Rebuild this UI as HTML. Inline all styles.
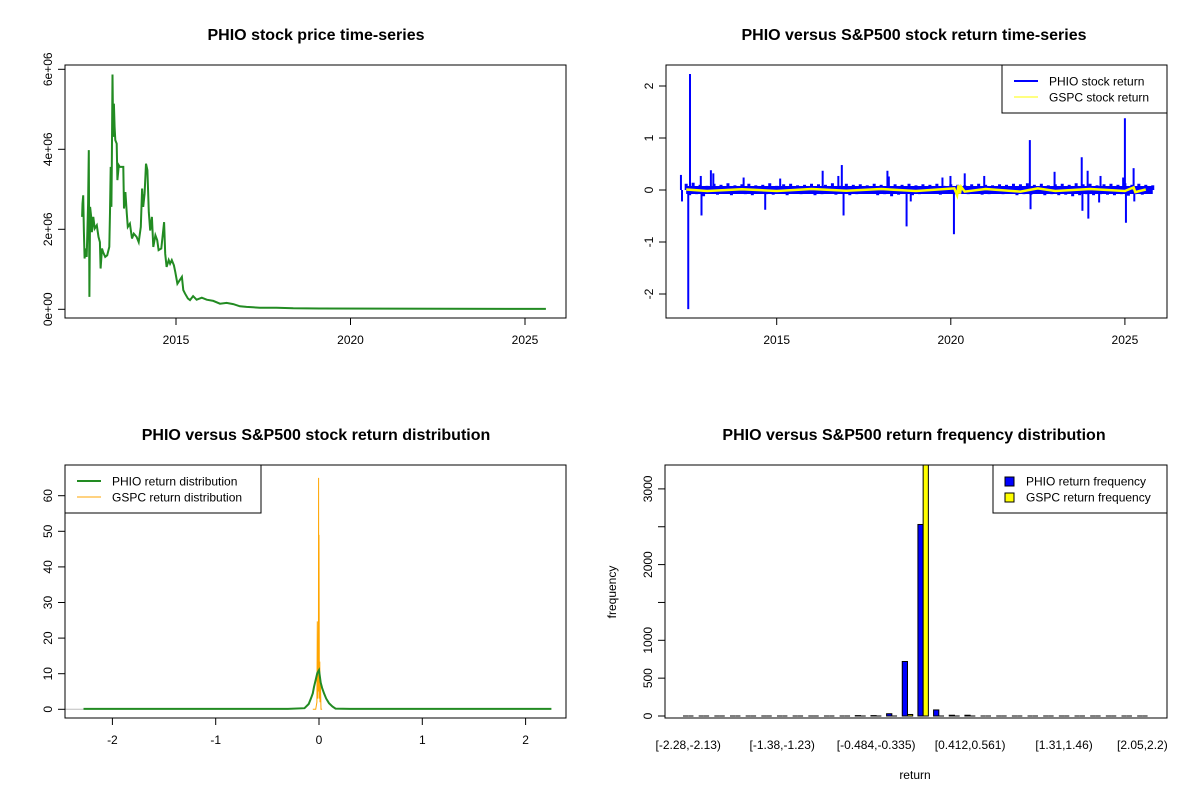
<!DOCTYPE html>
<html><head><meta charset="utf-8"><style>
body{margin:0;background:#fff}
svg{display:block;font-family:"Liberation Sans",Arial,sans-serif}
.t{font-weight:bold;font-size:16px;text-anchor:middle}
.l{font-size:12px}
</style></head><body>
<svg id="s" width="1200" height="800" viewBox="0 0 1200 800">
<rect width="1200" height="800" fill="#fff"/>
<g id="g1"></g>
<g id="g2"></g>
<g id="g3"></g>
<g id="g4"></g>
</svg>
<script>
// ---- panel 1: price ----
const priceYears=[2012.31,2012.32,2012.34,2012.36,2012.38,2012.40,2012.44,2012.48,2012.50,2012.52,2012.54,2012.57,2012.59,2012.63,2012.67,2012.73,2012.78,2012.82,2012.84,2012.88,2012.91,2012.97,2013.03,2013.09,2013.11,2013.13,2013.15,2013.16,2013.18,2013.20,2013.22,2013.24,2013.26,2013.30,2013.32,2013.36,2013.39,2013.49,2013.51,2013.55,2013.59,2013.62,2013.68,2013.74,2013.79,2013.87,2013.93,2013.99,2014.03,2014.06,2014.10,2014.14,2014.18,2014.22,2014.26,2014.31,2014.35,2014.41,2014.46,2014.50,2014.58,2014.66,2014.69,2014.73,2014.79,2014.83,2014.88,2014.94,2014.98,2015.04,2015.11,2015.17,2015.21,2015.26,2015.34,2015.40,2015.49,2015.59,2015.74,2015.88,2016.07,2016.26,2016.45,2016.64,2016.83,2017.02,2017.40,2017.88,2018.36,2019.12,2025.6];
const priceMillions=[2.31,2.64,2.85,1.93,1.27,1.52,1.31,2.64,3.98,0.31,2.56,2.31,1.93,2.31,2.02,2.10,1.81,1.68,1.02,1.52,1.43,1.31,1.35,1.56,2.43,3.56,2.56,3.56,5.87,4.31,5.14,4.56,4.23,4.14,3.23,3.60,3.56,3.56,2.52,2.93,2.39,2.06,2.14,1.77,1.89,1.81,1.68,2.06,3.02,2.56,2.89,3.64,3.48,2.43,1.97,2.31,1.56,1.85,1.73,1.48,1.52,2.18,1.39,1.06,1.23,1.14,1.23,1.10,0.93,0.64,0.73,0.81,0.48,0.39,0.27,0.23,0.33,0.24,0.29,0.24,0.21,0.14,0.16,0.13,0.075,0.06,0.04,0.04,0.025,0.02,0.01];
const priceYTicks=["0e+00","2e+06","4e+06","6e+06"];
const yearTicks=[2015,2020,2025];
// ---- panel 2: returns ----
const baseStart=2012.4, baseStep=0.1;
const phioBase=[0.12,-0.1,0.14,-0.08,0.1,-0.12,0.08,-0.06,0.12,-0.09,0.1,-0.07,0.13,-0.1,0.09,-0.06,0.11,-0.08,0.12,-0.1,0.09,-0.07,0.1,-0.08,0.13,-0.09,0.08,-0.06,0.11,-0.1,0.12,-0.07,0.09,-0.08,0.1,-0.06,0.12,-0.1,0.11,-0.08,0.1,-0.07,0.13,-0.09,0.08,-0.06,0.12,-0.1,0.1,-0.08,0.11,-0.07,0.09,-0.06,0.12,-0.1,0.1,-0.08,0.13,-0.12,0.11,-0.09,0.1,-0.07,0.12,-0.1,0.09,-0.08,0.11,-0.07,0.1,-0.06,0.12,-0.09,0.08,-0.07,0.11,-0.08,0.1,-0.06,0.09,-0.08,0.11,-0.07,0.12,-0.09,0.1,-0.08,0.09,-0.06,0.11,-0.08,0.1,-0.07,0.12,-0.1,0.11,-0.08,0.13,-0.09,0.1,-0.07,0.12,-0.1,0.09,-0.08,0.11,-0.1,0.12,-0.09,0.1,-0.12,0.13,-0.1,0.11,-0.08,0.12,-0.1,0.09,-0.08,0.11,-0.09,0.12,-0.1,0.1,-0.08,0.13,-0.11,0.1,-0.08,0.12,-0.09,0.1,-0.07,0.09];
const spikeYears=[2012.46,2012.51,2012.25,2012.28,2012.82,2012.84,2013.11,2013.18,2014.67,2014.05,2015.1,2016.32,2016.77,2016.87,2016.92,2018.18,2018.22,2018.73,2018.85,2019.76,2019.99,2020.09,2020.4,2020.96,2022.27,2022.29,2022.98,2023.76,2023.78,2023.93,2023.95,2024.3,2024.26,2024.95,2025.0,2025.03,2025.25,2025.27];
const spikeValues=[-2.29,2.23,0.29,-0.22,0.27,-0.49,0.38,0.32,-0.38,0.24,0.22,0.37,0.27,0.48,-0.49,0.37,0.26,-0.7,-0.22,0.24,0.27,-0.85,0.32,0.27,0.96,-0.37,0.35,0.63,-0.4,0.37,-0.55,0.27,-0.24,0.24,1.38,-0.63,0.42,-0.22];
const gspcYears=[2012.4,2013,2014,2015,2016,2017,2018,2019,2020.1,2020.18,2020.22,2020.26,2020.3,2020.4,2021,2022,2022.5,2023,2024,2025,2025.25,2025.3,2025.6];
const gspcRet=[0.01,-0.02,0.015,-0.02,0.02,-0.015,0.02,-0.02,0.03,-0.1,0.09,-0.07,0.06,-0.03,0.02,-0.03,0.03,-0.02,0.02,-0.02,0.05,-0.04,0.01];
const retYTicks=[-2,-1,0,1,2];
// ---- panel 3: density ----
const phioDensX=[-2.28,-0.3,-0.14,-0.1,-0.077,-0.06,-0.048,-0.03,-0.016,0,0.016,0.03,0.048,0.07,0.097,0.13,0.16,0.3,2.25];
const phioDensY=[0.1,0.1,0.3,1.5,3.1,4.5,6.3,8.5,10.2,11,7.5,6,4.5,3,1.7,0.8,0.2,0.1,0.1];
const gspcDensX=[-0.06,-0.032,-0.02,-0.016,-0.012,-0.006,-0.004,-0.002,0.0,0.004,0.008,0.01,0.014,0.019,0.03];
const gspcDensY=[0,0,2,24.7,3,10,65,5,49,3,13.4,2,8,0,0];
const densYTicks=[0,10,20,30,40,50,60];
const densXTicks=[-2,-1,0,1,2];
// ---- panel 4: histogram ----
const phioFreq=[0,0,0,0,0,0,0,0,0,0,0,5,5,30,720,2530,80,10,10,0,0,0,0,0,0,0,0,0,0,0];
const gspcFreq=[0,0,0,0,0,0,0,0,0,0,0,0,0,0,20,3500,0,0,0,0,0,0,0,0,0,0,0,0,0,0];
const binLabels=["[-2.28,-2.13)","[-1.38,-1.23)","[-0.484,-0.335)","[0.412,0.561)","[1.31,1.46)","[2.05,2.2)"];
const binLabelIdx=[0,6,12,18,24,29];
const freqTicks=[0,500,1000,1500,2000,2500,3000];
const freqTickLabels=["0","500","1000","","2000","","3000"];

const NS="http://www.w3.org/2000/svg";
function mk(p,tag,a,txt){const e=document.createElementNS(NS,tag);for(const k in a)e.setAttribute(k,a[k]);if(txt!==undefined)e.textContent=txt;p.appendChild(e);return e;}
function box(g,x0,y0,x1,y1){const b=mk(g,'rect',{x:x0,y:y0,width:x1-x0,height:y1-y0,fill:'none',stroke:'#000','stroke-width':1});

}
function yAxis(g,ticks,labels,sy,x0){const ys=ticks.map(sy);mk(g,'line',{x1:x0,x2:x0,y1:Math.min(...ys),y2:Math.max(...ys),stroke:'#000'});
ticks.forEach((t,i)=>{const y=sy(t);mk(g,'line',{x1:x0-7,x2:x0,y1:y,y2:y,stroke:'#000'});if(labels[i]!==''){const e=mk(g,'text',{x:x0-17,y:y,class:'l','text-anchor':'middle',transform:`rotate(-90 ${x0-17} ${y})`,'dominant-baseline':'central'},labels[i]);

}});}
function xAxis(g,ticks,labels,sx,y0){const xs=ticks.map(sx);mk(g,'line',{x1:Math.min(...xs),x2:Math.max(...xs),y1:y0,y2:y0,stroke:'#000'});
ticks.forEach((t,i)=>{const x=sx(t);mk(g,'line',{x1:x,x2:x,y1:y0,y2:y0+7,stroke:'#000'});const e=mk(g,'text',{x:x,y:y0+26,class:'l','text-anchor':'middle'},labels[i]);

});}
function title(g,x,y,s){const e=mk(g,'text',{x:x,y:y,class:'t'},s);

}
function legend(g,x0,y0,x1,y1,items){const lg=mk(g,'g',{});


mk(lg,'rect',{x:x0,y:y0,width:x1-x0,height:y1-y0,fill:'#fff',stroke:'#000'});
items.forEach((it,i)=>{const y=y0+16+i*16;const en=mk(lg,'g',{});


if(it.box)mk(en,'rect',{x:x0+12,y:y-4,width:9,height:9,fill:it.c,stroke:'#000'});else mk(en,'line',{x1:x0+12,x2:x0+36,y1:y,y2:y,stroke:it.c,'stroke-width':it.w});
mk(en,'text',{x:x0+(it.box?33:47),y:y+4.5,class:'l'},it.t);});}

// Panel 1
(function(){const g=document.getElementById('g1');
const sx=y=>176+(y-2015)*34.9, sy=v=>309.3-v*40;
title(g,316,40,'PHIO stock price time-series');
const pts=priceYears.map((y,i)=>sx(y).toFixed(1)+','+sy(priceMillions[i]).toFixed(1)).join(' ');
const l=mk(g,'polyline',{points:pts,fill:'none',stroke:'#228B22','stroke-width':2});


box(g,65,65,566,318);
yAxis(g,[0,2,4,6],priceYTicks,sy,65);
xAxis(g,yearTicks,yearTicks.map(String),sx,318);})();

// Panel 2
(function(){const g=document.getElementById('g2');
const sx=y=>776.7+(y-2015)*34.82, sy=v=>190-v*52;
title(g,914,40,'PHIO versus S&P500 stock return time-series');
phioBase.forEach((v,i)=>{const x=sx(baseStart+i*baseStep);const s=mk(g,'line',{x1:x,x2:x,y1:sy(0),y2:sy(v),stroke:'#0000FF','stroke-width':3});

});
const bl=mk(g,'line',{x1:sx(baseStart),x2:sx(baseStart+(phioBase.length-1)*baseStep),y1:sy(0),y2:sy(0),stroke:'#0000FF','stroke-width':8});


spikeYears.forEach((y,i)=>{const s=mk(g,'line',{x1:sx(y),x2:sx(y),y1:sy(0),y2:sy(spikeValues[i]),stroke:'#0000FF','stroke-width':2});

});
const gp=gspcYears.map((y,i)=>sx(y).toFixed(1)+','+sy(gspcRet[i]).toFixed(1)).join(' ');
const yl=mk(g,'polyline',{points:gp,fill:'none',stroke:'#FFFF00','stroke-width':2.5});


box(g,666,65,1167,318);
yAxis(g,retYTicks,retYTicks.map(String),sy,666);
xAxis(g,yearTicks,yearTicks.map(String),sx,318);
legend(g,1002,65,1167,113,[{t:'PHIO stock return',c:'#0000FF',w:2},{t:'GSPC stock return',c:'#FFFF00',w:1}]);})();

// Panel 3
(function(){const g=document.getElementById('g3');
const sx=v=>319+v*103.3, sy=v=>709.3-v*3.56;
title(g,316,440,'PHIO versus S&P500 stock return distribution');
mk(g,'line',{x1:65,x2:sx(-2.28),y1:sy(0),y2:sy(0),stroke:'#bebebe'});
const op=gspcDensX.map((x,i)=>sx(x).toFixed(1)+','+sy(gspcDensY[i]).toFixed(1)).join(' ');
const o=mk(g,'polyline',{points:op,fill:'none',stroke:'#FFA500','stroke-width':1});


const gp=phioDensX.map((x,i)=>sx(x).toFixed(1)+','+sy(phioDensY[i]).toFixed(1)).join(' ');
const l=mk(g,'polyline',{points:gp,fill:'none',stroke:'#228B22','stroke-width':2});


box(g,65,465,566,718);
yAxis(g,densYTicks,densYTicks.map(String),sy,65);
xAxis(g,densXTicks,densXTicks.map(String),sx,718);
legend(g,65,465,261,513,[{t:'PHIO return distribution',c:'#228B22',w:2},{t:'GSPC return distribution',c:'#FFA500',w:1}]);})();

// Panel 4
(function(){const g=document.getElementById('g4');
const u=5.22, ux=k=>677.8+k*u, sy=v=>716-v*0.0757;
title(g,914,440,'PHIO versus S&P500 return frequency distribution');
const cl=mk(g,'clipPath',{id:'c4'});mk(cl,'rect',{x:665,y:465,width:502,height:253});
const bg=mk(g,'g',{'clip-path':'url(#c4)'});
function bar(v,k,col,name){let r;
if(v<=0){r=mk(bg,'line',{x1:ux(k),x2:ux(k)+u,y1:sy(0),y2:sy(0),stroke:'#000','stroke-width':1});}
else{r=mk(bg,'rect',{x:ux(k),y:sy(v),width:u,height:sy(0)-sy(v),fill:col,stroke:'#000','stroke-width':1});}

}
phioFreq.forEach((v,i)=>bar(v,1+3*i,'#0000FF','phio-freq-bar'));
gspcFreq.forEach((v,i)=>bar(v,2+3*i,'#FFFF00','gspc-freq-bar'));
box(g,665,465,1167,718);
yAxis(g,freqTicks,freqTickLabels,sy,665);
binLabelIdx.forEach((k,i)=>{const e=mk(g,'text',{x:ux(2+3*k),y:749,class:'l','text-anchor':'middle'},binLabels[i]);

});
const xl=mk(g,'text',{x:915,y:779,class:'l','text-anchor':'middle'},'return');


const yl=mk(g,'text',{x:616,y:592,class:'l','text-anchor':'middle',transform:'rotate(-90 616 592)'},'frequency');


legend(g,993,465,1167,513,[{t:'PHIO return frequency',c:'#0000FF',box:true},{t:'GSPC return frequency',c:'#FFFF00',box:true}]);})();
</script>
</body></html>
